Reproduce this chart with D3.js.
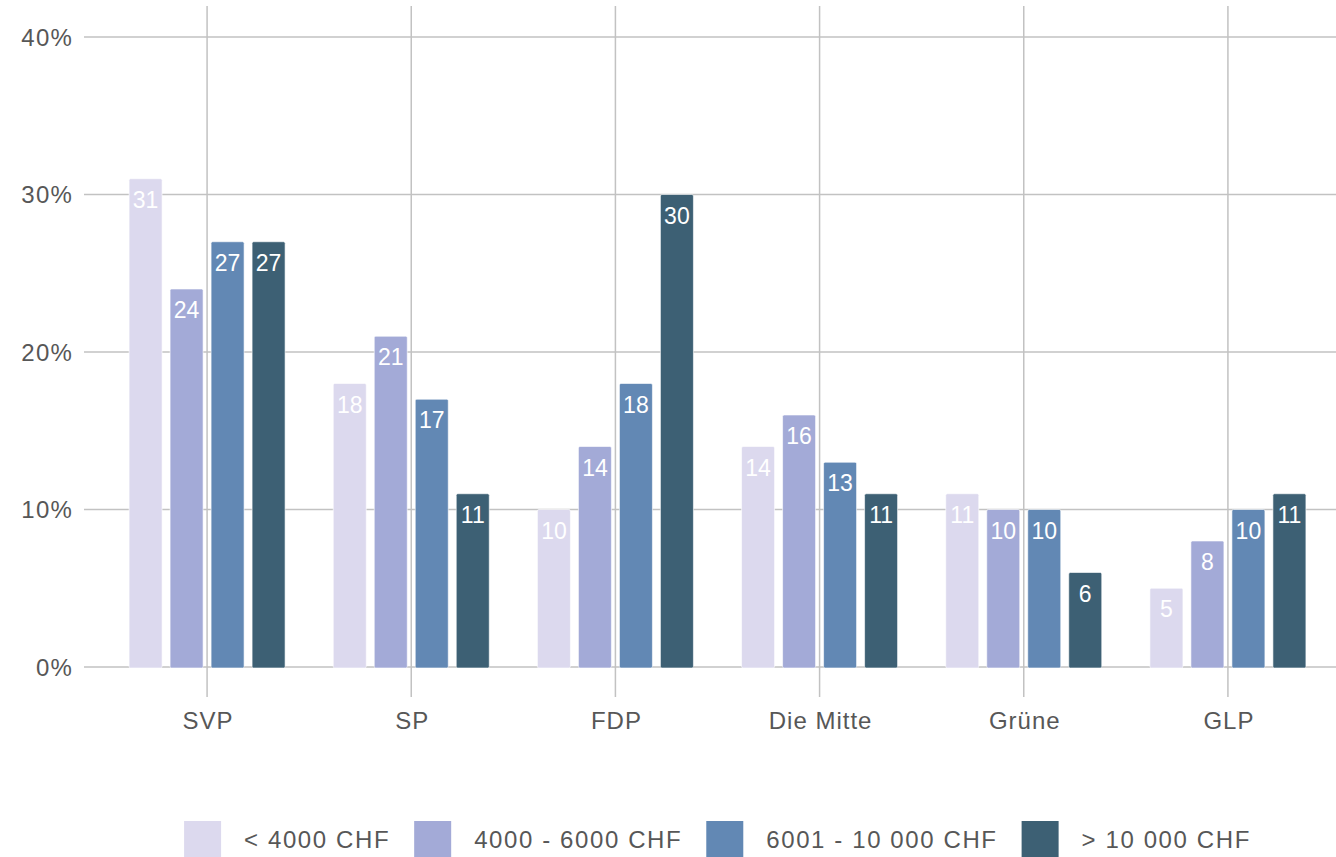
<!DOCTYPE html>
<html>
<head>
<meta charset="utf-8">
<script src="https://cdn.jsdelivr.net/npm/d3@7"></script>
<style>
  html, body { margin: 0; padding: 0; background: #ffffff; }
  svg { display: block; }
  text { font-family: "Liberation Sans", Arial, sans-serif; }
</style>
</head>
<body>
<svg id="chart" width="1336" height="857"></svg>
<script>
const categories = ["SVP", "SP", "FDP", "Die Mitte", "Grüne", "GLP"];
const seriesNames = ["< 4000 CHF", "4000 - 6000 CHF", "6001 - 10 000 CHF", "> 10 000 CHF"];
const valuesBelow4000 = [31, 18, 10, 14, 11, 5];
const values4000to6000 = [24, 21, 14, 16, 10, 8];
const values6001to10000 = [27, 17, 18, 13, 10, 10];
const valuesAbove10000 = [27, 11, 30, 11, 6, 11];
const yTicks = [0, 10, 20, 30, 40];
const colors = ["#dcd9ee", "#a3aad7", "#6288b4", "#3d6074"];

const seriesValues = [valuesBelow4000, values4000to6000, values6001to10000, valuesAbove10000];
const data = categories.map((c, i) => ({
  category: c,
  values: seriesNames.map((s, j) => ({ series: s, value: seriesValues[j][i], idx: j }))
}));

const svg = d3.select("#chart");

const x0 = d3.scaleBand().domain(categories).range([105, 1330]).padding(0);
const x1 = d3.scaleBand().domain(seriesNames).range([-78, 78]).paddingInner(0.195).paddingOuter(0);
const y = d3.scaleLinear().domain([0, 40]).range([667, 37]);

const gridColor = "#c2c2c2";
const textColor = "#575757";

// horizontal gridlines
svg.append("g").selectAll("line").data(yTicks).join("line")
  .attr("x1", 84).attr("x2", 1336)
  .attr("y1", d => y(d)).attr("y2", d => y(d))
  .attr("stroke", gridColor).attr("stroke-width", 1.5);

// vertical gridlines
svg.append("g").selectAll("line").data(categories).join("line")
  .attr("x1", d => x0(d) + x0.bandwidth() / 2).attr("x2", d => x0(d) + x0.bandwidth() / 2)
  .attr("y1", 6).attr("y2", 697)
  .attr("stroke", gridColor).attr("stroke-width", 1.5);

// y-axis labels
svg.append("g").selectAll("text").data(yTicks).join("text")
  .attr("x", 73).attr("y", d => y(d))
  .attr("dy", "0.36em")
  .attr("text-anchor", "end")
  .attr("font-size", 24).attr("letter-spacing", "1.2px")
  .attr("fill", textColor)
  .text(d => d + "%");

// x-axis labels
svg.append("g").selectAll("text").data(categories).join("text")
  .attr("x", d => x0(d) + x0.bandwidth() / 2 + 1)
  .attr("y", 729)
  .attr("text-anchor", "middle")
  .attr("font-size", 24).attr("letter-spacing", "1px")
  .attr("fill", textColor)
  .text(d => d);

// bars
const groups = svg.append("g").selectAll("g").data(data).join("g")
  .attr("transform", d => `translate(${x0(d.category) + x0.bandwidth() / 2},0)`);

groups.selectAll("rect").data(d => d.values).join("rect")
  .attr("x", d => x1(d.series))
  .attr("y", d => y(d.value))
  .attr("width", x1.bandwidth())
  .attr("height", d => y(0) - y(d.value) + 1)
  .attr("rx", 1.5)
  .attr("fill", d => colors[d.idx])
  .attr("stroke", "#ffffff").attr("stroke-opacity", 0.6).attr("stroke-width", 1);

groups.selectAll("text").data(d => d.values).join("text")
  .attr("x", d => x1(d.series) + x1.bandwidth() / 2)
  .attr("y", d => y(d.value) + 29)
  .attr("text-anchor", "middle")
  .attr("font-size", 23)
  .attr("fill", "#ffffff")
  .text(d => d.value);

// legend
const legend = svg.append("g");
const items = legend.selectAll("g").data(seriesNames).join("g");
items.append("rect")
  .attr("width", 37).attr("height", 37)
  .attr("y", 821)
  .attr("fill", (d, i) => colors[i]);
items.append("text")
  .attr("x", 60).attr("y", 839)
  .attr("dy", "0.36em")
  .attr("font-size", 24).attr("letter-spacing", "1.6px")
  .attr("fill", textColor)
  .text(d => d);

let widths = [];
items.each(function() { widths.push(d3.select(this).select("text").node().getComputedTextLength()); });
const itemW = widths.map(w => 37 + 23 + w + 24);
const total = d3.sum(itemW) - 24;
let start = (105 + 1330) / 2 - total / 2;
let acc = start;
items.attr("transform", (d, i) => { const t = `translate(${acc},0)`; acc += itemW[i]; return t; });
</script>
</body>
</html>
